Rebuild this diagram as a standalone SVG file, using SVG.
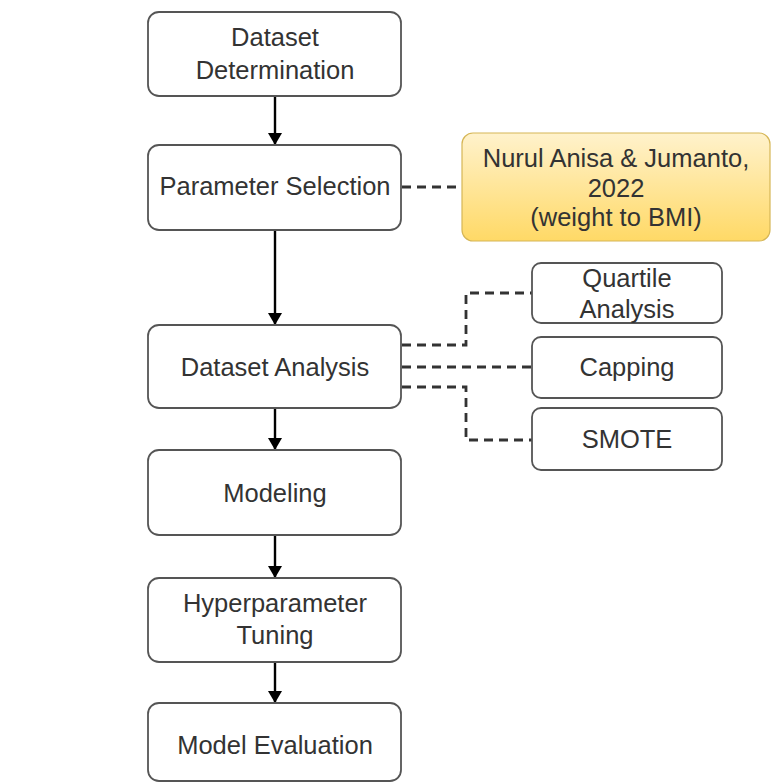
<svg xmlns="http://www.w3.org/2000/svg" width="771" height="783" viewBox="0 0 771 783">
<style>
.box{fill:#ffffff;stroke:#555555;stroke-width:1.8}
.t{font-family:"Liberation Sans",Arial,sans-serif;font-size:25.5px;fill:#333333;text-anchor:middle}
.flow{stroke:#000000;stroke-width:2.4;fill:none}
.dash{stroke:#333333;stroke-width:2.8;fill:none;stroke-dasharray:9 6}
</style>
<defs>
<linearGradient id="yg" x1="0" y1="0" x2="0" y2="1">
<stop offset="0" stop-color="#fff2cc"/>
<stop offset="1" stop-color="#ffd966"/>
</linearGradient>
<marker id="ah" viewBox="0 0 12 14" refX="11" refY="7" markerWidth="12" markerHeight="14" markerUnits="userSpaceOnUse" orient="auto">
<path d="M0,0 L12,7 L0,14 Z" fill="#000000"/>
</marker>
</defs>
<rect width="771" height="783" fill="#ffffff"/>
<g id="connectors">
<line class="flow" x1="275" y1="97" x2="275" y2="144" marker-end="url(#ah)"/>
<line class="flow" x1="275" y1="231" x2="275" y2="324" marker-end="url(#ah)"/>
<line class="flow" x1="275" y1="409" x2="275" y2="449" marker-end="url(#ah)"/>
<line class="flow" x1="275" y1="536" x2="275" y2="577" marker-end="url(#ah)"/>
<line class="flow" x1="275" y1="663" x2="275" y2="702" marker-end="url(#ah)"/>
<line class="dash" x1="402" y1="187" x2="462" y2="187"/>
<path class="dash" d="M402,345 H466 V293 H532"/>
<path class="dash" d="M402,367 H532"/>
<path class="dash" d="M402,387 H466 V440 H532"/>
</g>
<g id="dataset-determination">
<rect class="box" x="148" y="12" width="253" height="84" rx="11"/>
<text class="t" x="275" y="46">Dataset</text>
<text class="t" x="275" y="79">Determination</text>
</g>
<g id="parameter-selection">
<rect class="box" x="148" y="145" width="253" height="85" rx="11"/>
<text class="t" x="275" y="195">Parameter Selection</text>
</g>
<g id="reference">
<rect x="462" y="133" width="308" height="108" rx="11" fill="url(#yg)" stroke="#d6b656" stroke-width="1.2"/>
<text class="t" x="616" y="167">Nurul Anisa &amp; Jumanto,</text>
<text class="t" x="616" y="197">2022</text>
<text class="t" x="616" y="226">(weight to BMI)</text>
</g>
<g id="dataset-analysis">
<rect class="box" x="148" y="325" width="253" height="83" rx="11"/>
<text class="t" x="275" y="376">Dataset Analysis</text>
</g>
<g id="quartile-analysis">
<rect class="box" x="532" y="263" width="190" height="60" rx="9"/>
<text class="t" x="627" y="287">Quartile</text>
<text class="t" x="627" y="318">Analysis</text>
</g>
<g id="capping">
<rect class="box" x="532" y="337" width="190" height="61" rx="9"/>
<text class="t" x="627" y="376">Capping</text>
</g>
<g id="smote">
<rect class="box" x="532" y="408" width="190" height="62" rx="9"/>
<text class="t" x="627" y="448">SMOTE</text>
</g>
<g id="modeling">
<rect class="box" x="148" y="450" width="253" height="85" rx="11"/>
<text class="t" x="275" y="502">Modeling</text>
</g>
<g id="hyperparameter-tuning">
<rect class="box" x="148" y="578" width="253" height="84" rx="11"/>
<text class="t" x="275" y="612">Hyperparameter</text>
<text class="t" x="275" y="644">Tuning</text>
</g>
<g id="model-evaluation">
<rect class="box" x="148" y="703" width="253" height="78" rx="11"/>
<text class="t" x="275" y="754">Model Evaluation</text>
</g>
</svg>
